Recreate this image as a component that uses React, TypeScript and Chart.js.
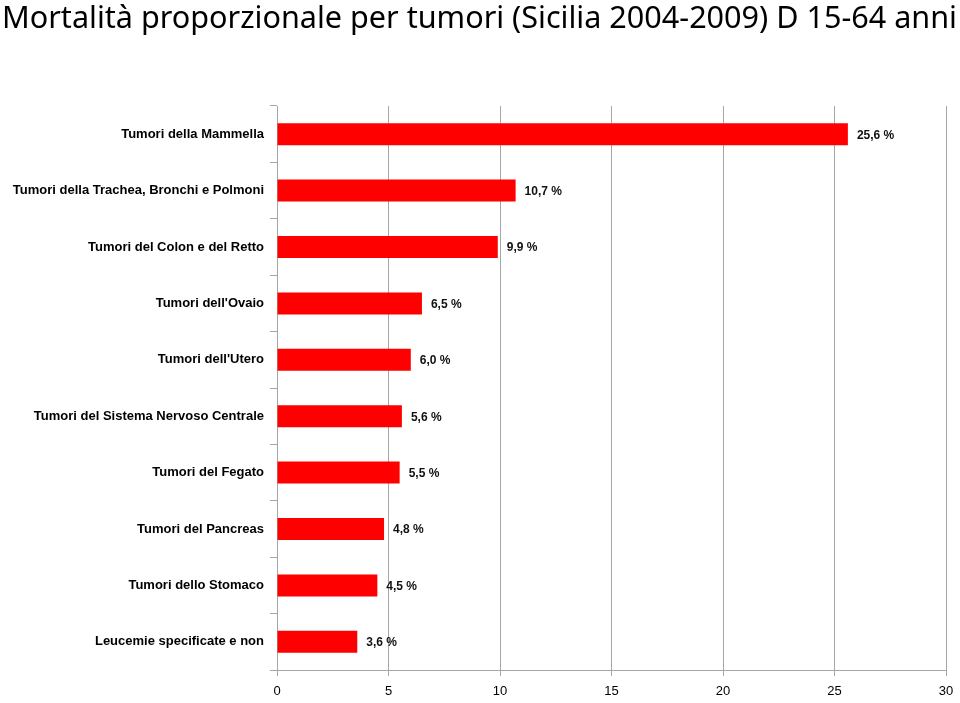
import React, { useEffect, useRef } from "react";
import { Chart, registerables } from "chart.js";

Chart.register(...registerables);

const titleText = "Mortalità proporzionale per tumori (Sicilia 2004-2009) D 15-64 anni";
const categories = [
  "Tumori della Mammella",
  "Tumori della Trachea, Bronchi e Polmoni",
  "Tumori del Colon e del Retto",
  "Tumori dell'Ovaio",
  "Tumori dell'Utero",
  "Tumori del Sistema Nervoso Centrale",
  "Tumori del Fegato",
  "Tumori del Pancreas",
  "Tumori dello Stomaco",
  "Leucemie specificate e non",
];
const values = [25.6, 10.7, 9.9, 6.5, 6.0, 5.6, 5.5, 4.8, 4.5, 3.6];
const xMin = 0;
const xMax = 30;
const xStep = 5;

const titlePlugin = {
  id: "fitTitle",
  afterDraw(chart: any) {
    const ctx = chart.ctx;
    ctx.save();
    ctx.font = '31px "Noto Sans", "Open Sans", sans-serif';
    ctx.fillStyle = "#000";
    ctx.textBaseline = "alphabetic";
    ctx.textAlign = "left";
    const w = ctx.measureText(titleText).width;
    const target = 955;
    ctx.translate(2, 28);
    ctx.scale(target / w, 1);
    ctx.fillText(titleText, 0, 0);
    ctx.restore();
  },
};

const labelPlugin = {
  id: "barLabels",
  afterDatasetsDraw(chart: any) {
    const ctx = chart.ctx;
    const meta = chart.getDatasetMeta(0);
    ctx.save();
    ctx.font = 'bold 12px "Liberation Sans", Arial, sans-serif';
    ctx.fillStyle = "#111";
    ctx.textAlign = "left";
    ctx.textBaseline = "middle";
    meta.data.forEach((bar: any, i: number) => {
      const txt = values[i].toFixed(1).replace(".", ",") + " %";
      ctx.fillText(txt, bar.x + 9, bar.y + 1);
    });
    ctx.restore();
  },
};

export default function App() {
  const ref = useRef<HTMLCanvasElement>(null);
  useEffect(() => {
    document.body.style.margin = "0";
    const chart = new Chart(ref.current!, {
      type: "bar",
      data: {
        labels: categories,
        datasets: [
          {
            data: values,
            backgroundColor: "#ff0000",
            borderWidth: 0,
            barPercentage: 0.39,
            categoryPercentage: 1,
          },
        ],
      },
      options: {
        indexAxis: "y",
        animation: false,
        responsive: false,
        maintainAspectRatio: false,
        layout: { padding: { top: 106, right: 14, left: 0, bottom: 0 } },
        plugins: {
          legend: { display: false },
          title: { display: false },
          tooltip: { enabled: false },
        },
        scales: {
          x: {
            min: xMin,
            max: xMax,
            ticks: {
              stepSize: xStep,
              color: "#000",
              font: { family: '"Liberation Sans", Arial, sans-serif', size: 13 },
              padding: 8,
            },
            grid: {
              color: "#a6a6a6",
              lineWidth: 1,
              tickLength: 6,
              drawOnChartArea: true,
            },
            border: { color: "#a6a6a6", width: 1 },
            afterFit: (s: any) => {
              s.height = 33;
              s.paddingRight = 0;
              s.paddingLeft = 0;
            },
          },
          y: {
            ticks: {
              color: "#000",
              font: { family: '"Liberation Sans", Arial, sans-serif', size: 13, weight: "bold" },
              padding: 6,
              autoSkip: false,
            },
            grid: {
              drawOnChartArea: false,
              color: "#a6a6a6",
              tickLength: 7,
            },
            border: { color: "#a6a6a6", width: 1 },
            afterFit: (s: any) => {
              s.width = 277;
            },
          },
        },
      },
      plugins: [titlePlugin, labelPlugin],
    });
    return () => chart.destroy();
  }, []);
  return (
    <div style={{ position: "relative", width: 960, height: 703 }}>
      <canvas ref={ref} width={960} height={703} style={{ display: "block" }} />
    </div>
  );
}
